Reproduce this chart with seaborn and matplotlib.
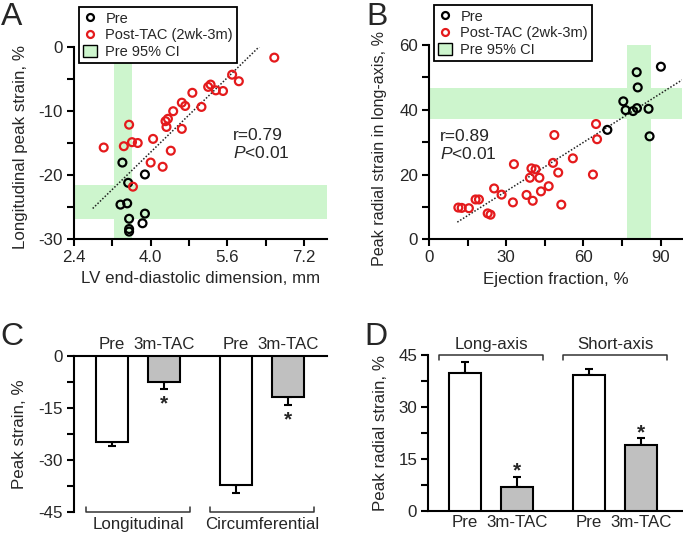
import numpy as np
import pandas as pd
import matplotlib
matplotlib.use("Agg")
import matplotlib.pyplot as plt
import matplotlib.transforms as mtransforms
from matplotlib.lines import Line2D
from matplotlib.patches import Patch
from matplotlib.ticker import MultipleLocator
import seaborn as sns

# Panel A: LV end-diastolic dimension (mm) vs longitudinal peak strain (%)
a_pre_x = [3.41, 3.88, 3.53, 3.37, 3.51, 3.88, 3.55, 3.83, 3.55, 3.55]
a_pre_y = [-18.05, -19.9, -21.2, -24.6, -24.4, -26.0, -26.8, -27.5, -28.4, -28.8]
a_tac_x = [6.58, 5.70, 5.84, 5.20, 5.25, 5.36, 5.51, 4.87, 4.65, 4.72, 5.06, 4.47, 4.36,
           4.31, 4.33, 4.65, 3.55, 4.05, 3.61, 3.73, 3.44, 3.02, 4.42, 4.00, 4.25, 3.63]
a_tac_y = [-1.7, -4.36, -5.38, -6.26, -5.9, -6.8, -6.9, -7.18, -8.72, -9.23, -9.38, -10.05, -11.23,
           -11.6, -12.5, -12.8, -12.15, -14.36, -14.87, -15.0, -15.5, -15.7, -16.2, -18.05, -18.7, -21.8]
a_ci_x = [3.23, 3.62]
a_ci_y = [-26.9, -21.5]
a_fit_x = [2.79, 6.28]
a_fit_y = [-25.2, 0.1]

# Panel B: ejection fraction (%) vs peak radial strain in long-axis (%)
b_pre_x = [90.1, 80.7, 81.1, 75.5, 76.4, 79.3, 80.8, 85.3, 85.7, 69.3]
b_pre_y = [53.3, 51.6, 46.9, 42.6, 39.9, 39.6, 40.5, 40.3, 31.8, 33.8]
b_tac_x = [64.9, 65.3, 48.7, 55.9, 33.0, 39.8, 41.4, 48.2, 39.2, 42.9, 50.2, 63.7, 46.5,
           43.5, 37.9, 40.3, 51.4, 32.6, 25.3, 28.2, 18.1, 19.4, 11.4, 12.7, 15.5, 22.8, 23.9]
b_tac_y = [35.6, 30.9, 32.2, 25.0, 23.2, 21.9, 21.6, 23.6, 19.0, 19.0, 20.6, 20.0, 16.4,
           14.8, 13.7, 11.9, 10.7, 11.4, 15.7, 13.8, 12.3, 12.3, 9.8, 9.7, 9.6, 8.0, 7.6]
b_ci_x = [76.9, 86.2]
b_ci_y = [37.2, 46.7]
b_fit_x = [11.0, 98.3]
b_fit_y = [5.3, 49.2]

# Panel C: peak strain
c_groups = ["Longitudinal", "Longitudinal", "Circumferential", "Circumferential"]
c_cond = ["Pre", "3m-TAC", "Pre", "3m-TAC"]
c_mean = [-24.8, -7.5, -37.4, -11.85]
c_err = [1.2, 1.9, 2.3, 2.3]

# Panel D: peak radial strain
d_groups = ["Long-axis", "Long-axis", "Short-axis", "Short-axis"]
d_cond = ["Pre", "3m-TAC", "Pre", "3m-TAC"]
d_mean = [39.9, 6.9, 39.1, 19.0]
d_err = [3.0, 3.0, 1.9, 2.0]

sig = [False, True, False, True]

RED = "#e41a1c"
GREEN = "#cdf5cd"
GRAY = "#c0c0c0"
FS = 12.2

sns.set_style("ticks")
plt.rcParams["font.family"] = ["Liberation Sans", "DejaVu Sans"]
plt.rcParams["axes.unicode_minus"] = False
plt.rcParams["mathtext.fontset"] = "custom"
plt.rcParams["mathtext.rm"] = "Liberation Sans"
plt.rcParams["mathtext.it"] = "Liberation Sans:italic"

fig = plt.figure(figsize=(6.83, 5.36), dpi=100)
W, H = 683, 536


def box(l, t, r, b):
    return [l / W, 1 - b / H, (r - l) / W, (b - t) / H]


def style_axis(ax):
    for s in ax.spines.values():
        s.set_linewidth(1.5)
        s.set_color("black")
    ax.tick_params(which="both", length=5, width=1.5, labelsize=FS, color="black", pad=3)


def scatter_panel(ax, pre_x, pre_y, tac_x, tac_y, ci_x, ci_y, fit_x, fit_y, rtext, tx, ty):
    ax.axvspan(ci_x[0], ci_x[1], color=GREEN, lw=0, zorder=0)
    ax.axhspan(ci_y[0], ci_y[1], color=GREEN, lw=0, zorder=0)
    ax.plot(fit_x, fit_y, ls=(0, (1, 1.2)), color="#222222", lw=1.1, zorder=2)
    sns.scatterplot(x=pre_x, y=pre_y, ax=ax, marker="o", s=32, facecolor="none",
                    edgecolor="black", linewidth=1.6, zorder=3)
    sns.scatterplot(x=tac_x, y=tac_y, ax=ax, marker="o", s=32, facecolor="none",
                    edgecolor=RED, linewidth=1.6, zorder=3)
    ax.text(tx, ty, rtext, fontsize=FS + 0.3, va="center", ha="left", linespacing=1.15)
    sns.despine(ax=ax)
    style_axis(ax)
    handles = [
        Line2D([], [], ls="none", marker="o", ms=5, mfc="none", mec="black", mew=1.6),
        Line2D([], [], ls="none", marker="o", ms=5, mfc="none", mec=RED, mew=1.6),
        Patch(facecolor=GREEN, edgecolor="black", linewidth=1.0),
    ]
    leg = ax.legend(handles, ["Pre", "Post-TAC (2wk-3m)", "Pre 95% CI"],
                    loc="upper left", bbox_to_anchor=(0.02, 1.205), fontsize=10.5,
                    frameon=True, fancybox=False, framealpha=1, edgecolor="black",
                    handlelength=0.9, handleheight=0.9, handletextpad=0.6,
                    labelspacing=0.18, borderpad=0.3, borderaxespad=0)
    leg.get_frame().set_linewidth(1.3)
    leg.set_zorder(5)


# ---- A ----
axA = fig.add_axes(box(74, 46.7, 327, 239.3))
scatter_panel(axA, a_pre_x, a_pre_y, a_tac_x, a_tac_y, a_ci_x, a_ci_y, a_fit_x, a_fit_y,
              "r=0.79\n$P$<0.01", 5.72, -15.2)
axA.set_xlim(2.4, 7.68)
axA.set_ylim(-30, 0)
axA.xaxis.set_minor_locator(MultipleLocator(0.8))
axA.yaxis.set_major_locator(MultipleLocator(10))
axA.yaxis.set_minor_locator(MultipleLocator(5))
axA.set_xticks([2.4, 4.0, 5.6, 7.2], ["2.4", "4.0", "5.6", "7.2"])
axA.set_xlabel("LV end-diastolic dimension, mm", fontsize=FS)
axA.set_ylabel("Longitudinal peak strain, %", fontsize=FS)
axA.xaxis.set_label_coords(0.5, -0.165)
axA.yaxis.set_label_coords(-0.18, 0.48)

# ---- B ----
axB = fig.add_axes(box(429, 45, 682, 239.3))
scatter_panel(axB, b_pre_x, b_pre_y, b_tac_x, b_tac_y, b_ci_x, b_ci_y, b_fit_x, b_fit_y,
              "r=0.89\n$P$<0.01", 4.3, 29.0)
axB.set_xlim(0, 98.3)
axB.set_ylim(0, 60)
axB.xaxis.set_major_locator(MultipleLocator(30))
axB.xaxis.set_minor_locator(MultipleLocator(15))
axB.yaxis.set_major_locator(MultipleLocator(20))
axB.yaxis.set_minor_locator(MultipleLocator(10))
axB.set_xlabel("Ejection fraction, %", fontsize=FS)
axB.set_ylabel("Peak radial strain in long-axis, %", fontsize=FS - 0.6)
axB.xaxis.set_label_coords(0.5, -0.17)
axB.yaxis.set_label_coords(-0.166, 0.465)


def bar_panel(ax, groups, cond, mean, err, down):
    df = pd.DataFrame({"group": groups, "cond": cond, "value": mean})
    sns.barplot(data=df, x="group", y="value", hue="cond", hue_order=["Pre", "3m-TAC"],
                palette=["white", GRAY], width=0.84, gap=0.385, edgecolor="black",
                linewidth=1.5, errorbar=None, legend=False, ax=ax, zorder=3)
    bars = sorted([p for p in ax.patches if p.get_height() != 0], key=lambda p: p.get_x())
    cx = [p.get_x() + p.get_width() / 2 for p in bars]
    e = np.array(err)
    yerr = [e, np.zeros_like(e)] if down else [np.zeros_like(e), e]
    ax.errorbar(cx, mean, yerr=yerr, fmt="none", ecolor="black", elinewidth=1.5,
                capsize=3.2, capthick=1.5, zorder=2)
    for x, m, er, s in zip(cx, mean, err, sig):
        if s:
            yy = m - er - 4.3 if down else m + er + 1.6
            ax.text(x, yy, "*", ha="center", va="center", fontsize=15, fontweight="bold")
    style_axis(ax)
    return cx


def bracket(ax, x0, x1, y0, y1, label, ly):
    tr = mtransforms.blended_transform_factory(ax.transData, ax.transAxes)
    ax.plot([x0, x0, x1, x1], [y1, y0, y0, y1], color="#333333", lw=1.1,
            transform=tr, clip_on=False)
    ax.text((x0 + x1) / 2, ly, label, transform=tr, ha="center", va="center", fontsize=FS)


# ---- C ----
axC = fig.add_axes(box(74, 356, 327, 511.7))
cxC = bar_panel(axC, c_groups, c_cond, c_mean, c_err, down=True)
axC.set_xlim(-0.517, 1.527)
axC.set_ylim(-45, 0)
axC.yaxis.set_major_locator(MultipleLocator(15))
axC.yaxis.set_minor_locator(MultipleLocator(7.5))
axC.spines["bottom"].set_visible(False)
axC.spines["right"].set_visible(False)
axC.xaxis.tick_top()
axC.set_xticks(cxC, c_cond)
axC.tick_params(axis="x", length=0, pad=3)
axC.set_xlabel("")
axC.set_ylabel("Peak strain, %", fontsize=FS)
axC.yaxis.set_label_coords(-0.186, 0.5)
bracket(axC, -0.42, 0.42, 0.0, 0.03, "Longitudinal", -0.085)
bracket(axC, 0.58, 1.42, 0.0, 0.03, "Circumferential", -0.085)

# ---- D ----
axD = fig.add_axes(box(428.3, 355, 682, 511))
cxD = bar_panel(axD, d_groups, d_cond, d_mean, d_err, down=False)
axD.set_xlim(-0.506, 1.54)
axD.set_ylim(0, 45)
axD.yaxis.set_major_locator(MultipleLocator(15))
axD.yaxis.set_minor_locator(MultipleLocator(7.5))
sns.despine(ax=axD)
axD.set_xticks(cxD, d_cond)
axD.tick_params(axis="x", length=0, pad=3)
axD.set_xlabel("")
axD.set_ylabel("Peak radial strain, %", fontsize=FS)
axD.yaxis.set_label_coords(-0.159, 0.5)
bracket(axD, -0.42, 0.42, 1.0, 0.968, "Long-axis", 1.07)
bracket(axD, 0.58, 1.42, 1.0, 0.968, "Short-axis", 1.07)

# panel letters
for lab, x, y in [("A", 1, 2), ("B", 366, 2), ("C", 0, 322), ("D", 364, 322)]:
    fig.text(x / W, 1 - y / H, lab, fontsize=23, va="top", ha="left")

fig.savefig("out.png", dpi=100)
